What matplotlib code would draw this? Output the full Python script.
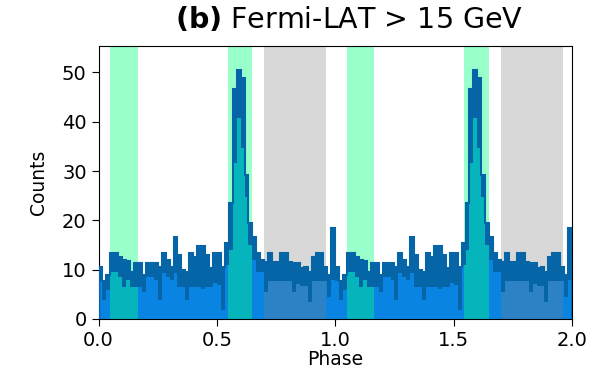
import numpy as np
import matplotlib.pyplot as plt

# phaseogram, one rotation (60 bins), shown twice
n_bins = 60
counts_top = [10.6, 7.6, 9.0, 13.3, 13.3, 12.6, 12.0, 11.7, 9.6, 11.4,
              11.4, 8.9, 11.4, 11.4, 11.4, 10.6, 13.3, 12.0, 10.6, 16.6,
              13.0, 10.0, 9.5, 13.3, 12.5, 14.7, 14.7, 13.0, 10.3, 13.3,
              13.3, 10.6, 15.4, 23.5, 46.6, 50.5, 48.8, 29.2, 19.5, 16.7,
              13.4, 12.0, 11.6, 13.3, 11.6, 11.6, 13.3, 13.3, 11.6, 11.3,
              11.3, 10.3, 10.6, 9.6, 12.5, 13.3, 13.3, 10.6, 8.9, 18.5]
counts_fill = [7.6, 3.8, 5.9, 9.5, 9.5, 8.5, 6.5, 8.0, 6.5, 6.5,
               6.5, 5.5, 8.5, 8.5, 8.0, 3.8, 9.3, 8.5, 8.0, 9.3,
               6.5, 6.5, 3.8, 6.5, 6.5, 6.5, 6.0, 6.5, 6.5, 7.2,
               6.8, 1.8, 11.0, 14.0, 31.6, 40.7, 34.7, 24.8, 15.0, 12.0,
               9.6, 9.6, 5.5, 7.6, 7.6, 7.6, 7.6, 7.6, 7.6, 5.5,
               7.0, 6.6, 6.6, 3.5, 7.6, 7.6, 7.6, 7.6, 4.5, 7.9]
on_windows = [(0.05, 0.165), (0.545, 0.65)]
off_windows = [(0.70, 0.96)]
xticks = [0.0, 0.5, 1.0, 1.5, 2.0]
yticks = [0, 10, 20, 30, 40, 50]

edges = np.linspace(0, 2, 2 * n_bins + 1)
top = np.tile(counts_top, 2)
fill = np.tile(counts_fill, 2)

fig, ax = plt.subplots(figsize=(5.91, 3.70), dpi=100)
fig.subplots_adjust(left=0.1667, right=0.968, bottom=0.138, top=0.876)

dark = '#0565a6'
ax.stairs(fill, edges, fill=True, color='#0a84e3', lw=0, zorder=1)
for period in (0, 1):
    for a, b in on_windows:
        ax.axvspan(a + period, b + period, color='springgreen', alpha=0.4, lw=0, zorder=2)
    for a, b in off_windows:
        ax.axvspan(a + period, b + period, color='gray', alpha=0.3, lw=0, zorder=2)
ax.stairs(top, edges, baseline=fill, fill=True, color=dark, lw=0, zorder=3)
ax.stairs(top, edges, color=dark, lw=1.5, zorder=4)

ax.set_xlim(0, 2)
ax.set_ylim(0, 55.4)
ax.set_xticks(xticks)
ax.set_yticks(yticks)
ax.tick_params(labelsize=14, length=5)
ax.set_ylabel('Counts', fontsize=13.5, labelpad=10)
ax.set_xlabel('Phase', fontsize=13.5, labelpad=0)
ax.text(0.53, 1.045, r'$\mathbf{(b)}$ Fermi-LAT > 15 GeV', transform=ax.transAxes,
        ha='center', va='bottom', fontsize=20.5)

fig.savefig('out.png', dpi=100)
